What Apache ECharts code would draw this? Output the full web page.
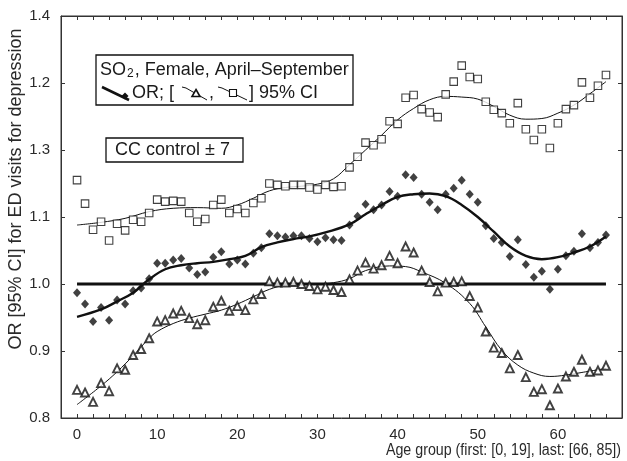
<!DOCTYPE html>
<html>
<head>
<meta charset="utf-8">
<script src="https://cdn.jsdelivr.net/npm/echarts@6/dist/echarts.min.js"></script>
<style>
html, body { margin: 0; padding: 0; background: #fff; }
#chart { width: 627px; height: 461px; }
</style>
</head>
<body>
<div id="chart"></div>
<script>
// age group index (first: [0,19], last: [66,85])
var ageIdx = [0, 1, 2, 3, 4, 5, 6, 7, 8, 9, 10, 11, 12, 13, 14, 15, 16, 17, 18, 19, 20,
    21, 22, 23, 24, 25, 26, 27, 28, 29, 30, 31, 32, 33, 34, 35, 36, 37, 38, 39, 40,
    41, 42, 43, 44, 45, 46, 47, 48, 49, 50, 51, 52, 53, 54, 55, 56, 57, 58, 59, 60,
    61, 62, 63, 64, 65, 66];

// point estimates (diamonds)
var orPts = [0.987, 0.970, 0.944, 0.965, 0.946, 0.976, 0.970, 0.990, 0.994, 1.008, 1.031,
    1.031, 1.036, 1.038, 1.024, 1.014, 1.018, 1.040, 1.048, 1.030, 1.036,
    1.030, 1.046, 1.054, 1.075, 1.072, 1.070, 1.072, 1.072, 1.068, 1.063,
    1.069, 1.066, 1.065, 1.088, 1.101, 1.119, 1.111, 1.118, 1.138, 1.131,
    1.163, 1.159, 1.134, 1.122, 1.111, 1.134, 1.143, 1.155, 1.134, 1.122,
    1.087, 1.068, 1.062, 1.041, 1.066, 1.029, 1.010, 1.019, 0.992, 1.022,
    1.042, 1.049, 1.075, 1.054, 1.062, 1.073];

// lower 95% CI (triangles)
var lowerPts = [0.842, 0.838, 0.824, 0.852, 0.840, 0.874, 0.872, 0.894, 0.903, 0.919, 0.944,
    0.946, 0.956, 0.960, 0.949, 0.940, 0.946, 0.966, 0.975, 0.960, 0.967,
    0.961, 0.977, 0.985, 1.004, 1.002, 1.002, 1.003, 1.000, 0.997, 0.992,
    0.996, 0.991, 0.988, 1.007, 1.020, 1.032, 1.023, 1.028, 1.042, 1.031,
    1.056, 1.047, 1.020, 1.003, 0.989, 1.002, 1.003, 1.004, 0.982, 0.965,
    0.929, 0.905, 0.897, 0.874, 0.894, 0.861, 0.839, 0.843, 0.819, 0.844,
    0.862, 0.869, 0.887, 0.869, 0.871, 0.878];

// upper 95% CI (squares)
var upperPts = [1.155, 1.120, 1.081, 1.093, 1.065, 1.090, 1.080, 1.096, 1.093, 1.106, 1.126,
    1.123, 1.124, 1.123, 1.106, 1.093, 1.097, 1.118, 1.126, 1.106, 1.112,
    1.106, 1.121, 1.128, 1.150, 1.148, 1.146, 1.148, 1.148, 1.144, 1.141,
    1.148, 1.145, 1.146, 1.174, 1.190, 1.211, 1.207, 1.216, 1.243, 1.239,
    1.278, 1.282, 1.261, 1.256, 1.249, 1.283, 1.302, 1.326, 1.309, 1.306,
    1.272, 1.260, 1.255, 1.240, 1.270, 1.231, 1.215, 1.231, 1.203, 1.240,
    1.261, 1.267, 1.301, 1.278, 1.296, 1.312];

// smoothed curves
var orCurveX = [0, 3, 5, 7, 9, 11, 13, 15, 17, 19, 21, 23, 25, 27, 29, 31, 34, 36, 38, 40,
    42, 44, 46, 48, 50, 52, 54, 56, 58, 60, 62, 64, 66];
var orCurveY = [0.951, 0.962, 0.974, 0.987, 1.007, 1.022, 1.028, 1.031, 1.033, 1.037, 1.042,
    1.055, 1.062, 1.067, 1.071, 1.077, 1.089, 1.104, 1.118, 1.130, 1.134, 1.135,
    1.131, 1.118, 1.100, 1.078, 1.056, 1.042, 1.037, 1.040, 1.047, 1.056, 1.071];

var lowerCurveX = [0, 3, 5, 7, 9, 10, 12, 14, 16, 18, 20, 22, 24, 26, 28, 30, 32, 34, 36, 39,
    41, 43, 46, 49, 51, 53, 55, 57, 59, 61, 63, 66];
var lowerCurveY = [0.820, 0.848, 0.869, 0.893, 0.919, 0.929, 0.941, 0.949, 0.955, 0.961, 0.970,
    0.981, 0.992, 0.998, 0.999, 1.000, 1.002, 1.008, 1.020, 1.027, 1.026, 1.018,
    1.001, 0.971, 0.936, 0.901, 0.879, 0.867, 0.862, 0.864, 0.868, 0.874];

var upperCurveX = [0, 3, 6, 9, 12, 15, 18, 20, 22, 24, 26, 28, 30, 32, 34, 36, 38, 40, 42, 44,
    46, 48, 50, 52, 54, 56, 58, 60, 62, 64, 66];
var upperCurveY = [1.088, 1.092, 1.098, 1.108, 1.113, 1.114, 1.113, 1.118, 1.128, 1.139, 1.144,
    1.146, 1.149, 1.157, 1.178, 1.200, 1.222, 1.245, 1.262, 1.275, 1.280, 1.279,
    1.276, 1.265, 1.252, 1.246, 1.247, 1.255, 1.267, 1.284, 1.302];

var refLineX = [0, 66];
var refLineY = [1.0, 1.0];

// tick labels as printed on the original y axis (bottom to top)
var yTickLabels = ['0.8', '0.9', '1.0', '1.1', '1.3', '1.2', '1.4'];

var xTitle = 'Age group (first: [0, 19], last: [66, 85])';
var yTitle = 'OR [95% CI] for ED visits for depression';

var SANS = "'Liberation Sans', Arial, sans-serif";
var INK = '#1a1a1a';

function pairs(xs, ys) {
    var out = [];
    for (var i = 0; i < xs.length; i++)
        out.push([xs[i], ys[i]]);
    return out;
}

function xAxisDef(pos, showLabels) {
    return {
        type: 'value', position: pos, min: -2, max: 68, interval: 2,
        axisLine: { show: true, onZero: false, lineStyle: { color: '#333', width: 1 } },
        axisTick: { show: true, inside: true, length: 4, lineStyle: { color: '#333' } },
        splitLine: { show: false },
        axisLabel: {
            show: showLabels, margin: 9, fontSize: 15, fontFamily: SANS, color: '#2a2a2a',
            formatter: function (v) { return (v >= 0 && v % 10 === 0) ? String(v) : ''; }
        }
    };
}

function yAxisDef(pos, showLabels) {
    return {
        type: 'value', position: pos, min: 0.8, max: 1.4, interval: 0.1,
        axisLine: { show: true, onZero: false, lineStyle: { color: '#333', width: 1 } },
        axisTick: { show: true, inside: true, length: 4, lineStyle: { color: '#333' } },
        splitLine: { show: false },
        axisLabel: {
            show: showLabels, margin: 11, fontSize: 15, fontFamily: SANS, color: '#2a2a2a',
            formatter: function (v) { return yTickLabels[Math.round((v - 0.8) / 0.1)] || ''; }
        }
    };
}

// legend box pieces (drawn as graphics, not data)
function legendGraphics() {
    var g = [];
    var stroke = { stroke: '#111', lineWidth: 1.3, fill: null };
    g.push({ type: 'rect', shape: { x: 96, y: 55, width: 257, height: 50 }, style: stroke, z: 50 });
    g.push({ type: 'rect', shape: { x: 106, y: 138, width: 137, height: 24 }, style: stroke, z: 50 });
    g.push({
        type: 'text', x: 100, y: 70, z: 51,
        style: {
            text: '{a|SO}{s|2}{a|, Female, April\u2013September}',
            verticalAlign: 'middle', fill: INK,
            rich: {
                a: { fontFamily: SANS, fontSize: 18, lineHeight: 20, fill: INK },
                s: { fontFamily: SANS, fontSize: 12, lineHeight: 12, verticalAlign: 'bottom', padding: [0, 1, 0, 1], fill: INK }
            }
        }
    });
    // OR icon: thick line with diamond
    g.push({ type: 'polyline', shape: { points: [[102, 87], [129, 100]] }, style: { stroke: '#111', lineWidth: 2.6 }, z: 51 });
    g.push({ type: 'polygon', shape: { points: [[125, 92.5], [128.5, 96], [125, 99.5], [121.5, 96]] }, style: { fill: '#111' }, z: 52 });
    g.push({ type: 'text', x: 132, y: 93, z: 51, style: { text: 'OR; [', font: '18px ' + SANS, fill: INK, verticalAlign: 'middle' } });
    // lower CI icon: thin line with triangle
    g.push({ type: 'polyline', shape: { points: [[182, 87], [186, 88], [207, 100]] }, style: { stroke: '#111', lineWidth: 1 }, z: 51 });
    g.push({ type: 'polygon', shape: { points: [[196, 89.5], [200, 96.5], [192, 96.5]] }, style: { fill: '#fff', stroke: '#111', lineWidth: 1.6 }, z: 52 });
    g.push({ type: 'text', x: 209, y: 93, z: 51, style: { text: ',', font: '18px ' + SANS, fill: INK, verticalAlign: 'middle' } });
    // upper CI icon: thin line with square
    g.push({ type: 'polyline', shape: { points: [[218, 87], [222, 88], [247, 100]] }, style: { stroke: '#111', lineWidth: 1 }, z: 51 });
    g.push({ type: 'rect', shape: { x: 229.5, y: 89.5, width: 7, height: 7 }, style: { fill: '#fff', stroke: '#111', lineWidth: 1.1 }, z: 52 });
    g.push({ type: 'text', x: 249, y: 93, z: 51, style: { text: '] 95% CI', font: '18px ' + SANS, fill: INK, verticalAlign: 'middle' } });
    g.push({ type: 'text', x: 115, y: 150, z: 51, style: { text: 'CC control \u00b1 7', font: '18px ' + SANS, fill: INK, verticalAlign: 'middle' } });
    // axis titles (condensed a little to match the original's narrow face)
    g.push({ type: 'text', x: 621, y: 451, scaleX: 0.89, z: 51, style: { text: xTitle, font: '16px ' + SANS, fill: '#2a2a2a', align: 'right', verticalAlign: 'middle' } });
    g.push({ type: 'text', x: 16, y: 189, rotation: Math.PI / 2, z: 51, style: { text: yTitle, font: '18px ' + SANS, fill: '#2a2a2a', align: 'center', verticalAlign: 'middle' } });
    return g;
}

var chart = echarts.init(document.getElementById('chart'), null, { renderer: 'canvas' });
chart.setOption({
    animation: false,
    backgroundColor: '#fff',
    grid: { left: 61, right: 5, top: 16, bottom: 43, show: true, borderColor: '#333', borderWidth: 1 },
    xAxis: [xAxisDef('bottom', true), xAxisDef('top', false)],
    yAxis: [yAxisDef('left', true), yAxisDef('right', false)],
    graphic: legendGraphics(),
    series: [
        {
            type: 'line', data: pairs(refLineX, refLineY), symbol: 'none',
            lineStyle: { color: '#111', width: 3 }, z: 2
        },
        {
            type: 'line', data: pairs(lowerCurveX, lowerCurveY), symbol: 'none', smooth: 0.4,
            lineStyle: { color: '#111', width: 1 }, z: 3
        },
        {
            type: 'line', data: pairs(upperCurveX, upperCurveY), symbol: 'none', smooth: 0.4,
            lineStyle: { color: '#111', width: 1 }, z: 3
        },
        {
            type: 'line', data: pairs(orCurveX, orCurveY), symbol: 'none', smooth: 0.4,
            lineStyle: { color: '#111', width: 2.4 }, z: 3
        },
        {
            type: 'scatter', data: pairs(ageIdx, lowerPts), symbol: 'triangle', symbolSize: [8, 8],
            itemStyle: { color: '#fff', borderColor: '#111', borderWidth: 1.9 }, z: 5
        },
        {
            type: 'scatter', data: pairs(ageIdx, orPts), symbol: 'diamond', symbolSize: [8, 9],
            itemStyle: { color: '#111' }, z: 5
        },
        {
            type: 'scatter', data: pairs(ageIdx, upperPts), symbol: 'rect', symbolSize: 7.5,
            itemStyle: { color: '#fff', borderColor: '#111', borderWidth: 1.1 }, z: 5
        }
    ]
});
</script>
</body>
</html>
